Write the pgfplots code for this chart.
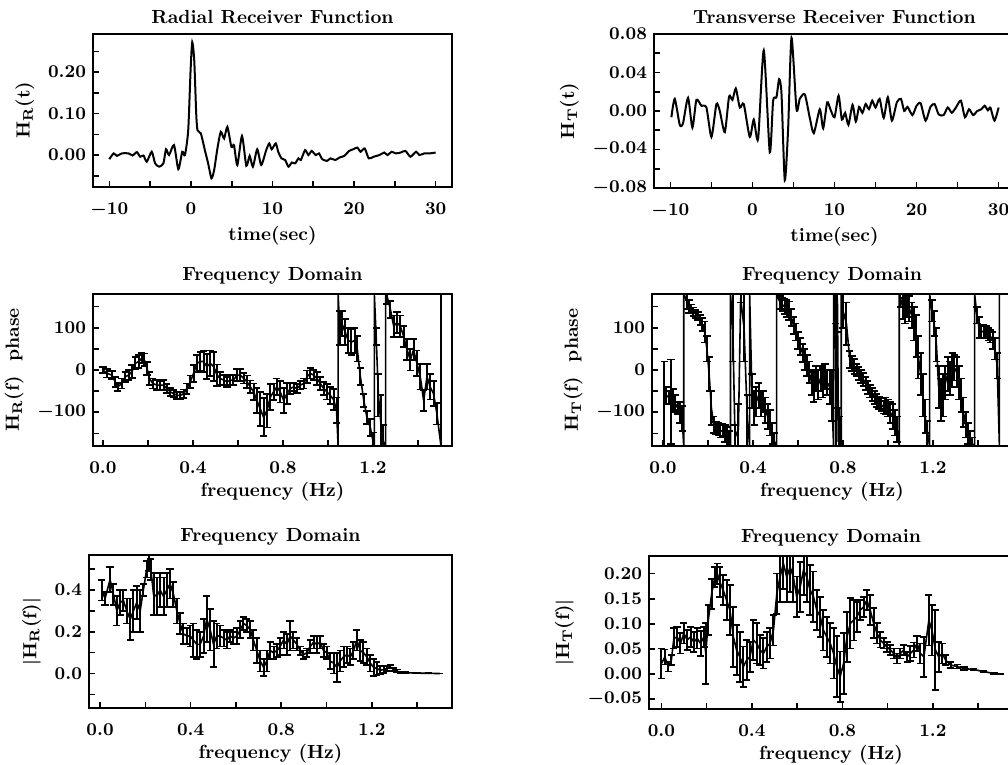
\documentclass[border=0pt]{standalone}
\usepackage{pgfplots}
\usepackage{pgfplotstable}
\pgfplotsset{compat=1.18}

% radial receiver function, time domain
\pgfplotstableread{
t v
-10.0 -0.010
-9.47 0.004
-9.07 -0.002
-8.46 0.004
-7.64 0.004
-7.15 -0.001
-6.63 0.007
-6.22 -0.004
-5.81 -0.001
-5.41 -0.016
-4.80 0.008
-4.39 -0.020
-3.90 -0.028
-3.37 -0.020
-3.05 0.014
-2.68 0.000
-2.07 0.024
-1.54 -0.034
-1.06 0.008
-0.73 0.000
-0.33 0.060
-0.04 0.204
0.16 0.272
0.41 0.228
0.65 0.100
0.81 0.060
1.22 0.052
1.71 0.012
2.11 -0.020
2.52 -0.056
2.85 -0.036
3.25 0.016
3.66 0.056
4.07 0.040
4.47 0.068
4.96 0.020
5.28 0.024
5.69 -0.024
6.26 0.046
6.79 -0.026
7.20 -0.002
7.60 -0.028
8.13 0.014
8.62 -0.024
9.23 0.012
9.60 0.028
9.90 0.014
10.4 0.028
10.7 0.008
11.1 -0.008
11.55 -0.012
11.96 -0.028
12.37 -0.018
12.78 -0.020
13.18 -0.008
13.47 -0.012
14.0 0.012
14.4 0.000
14.8 0.010
15.3 0.000
15.7 0.004
16.1 -0.010
16.7 -0.014
17.1 -0.008
17.7 -0.012
18.2 -0.006
18.8 -0.002
19.4 0.010
19.9 0.014
20.4 0.018
20.8 0.008
21.3 0.016
21.8 -0.008
22.4 -0.004
23.1 0.000
23.7 0.006
24.1 0.000
24.6 0.008
25.1 0.004
25.7 0.006
26.3 0.010
26.9 -0.004
27.6 0.008
28.0 0.000
28.6 0.004
29.2 0.004
30.0 0.006
}\hrtime

% transverse receiver function, time domain
\pgfplotstableread{
t v
-9.88 -0.0065
-9.47 0.0126
-8.86 -0.0144
-8.46 -0.0126
-7.85 0.0137
-7.32 -0.0173
-6.83 0.0115
-6.22 0.0054
-5.61 0.0036
-5.00 -0.0270
-4.39 0.0072
-3.98 0.0000
-3.37 -0.0220
-2.85 0.0150
-2.44 0.0115
-2.03 0.0234
-1.54 0.0036
-1.06 0.0072
-0.33 -0.0270
0.16 -0.0090
0.69 -0.0290
1.38 0.0630
2.11 -0.0430
2.52 0.0108
2.93 0.0144
3.25 0.0330
3.54 0.0180
3.94 -0.0720
4.35 -0.0180
4.76 0.0760
5.37 0.0018
5.77 0.0126
6.38 0.0173
6.99 -0.0072
7.48 -0.0230
8.21 0.0018
8.62 -0.0180
9.11 0.0090
9.50 0.0018
10.0 -0.0065
10.5 0.0160
10.9 -0.0090
11.3 -0.0020
11.7 -0.0144
12.2 0.0065
12.6 -0.0110
13.0 0.0043
13.4 -0.0020
13.8 0.0072
14.2 0.0018
14.6 0.0108
15.0 0.0036
15.5 0.0126
16.0 -0.0072
16.5 0.0144
17.0 -0.0100
17.6 0.0090
18.1 0.0126
18.5 0.0000
18.9 0.0043
19.5 -0.0043
20.0 0.0054
20.5 0.0080
21.1 -0.0100
21.7 0.0043
22.2 0.0072
22.7 -0.0036
23.3 -0.0043
23.8 0.0036
24.3 -0.0018
24.8 0.0036
25.4 0.0108
25.9 -0.0065
26.4 0.0018
26.9 -0.0043
27.4 0.0000
27.9 0.0018
28.3 0.0054
28.7 0.0007
29.0 0.0036
29.5 -0.0100
30.0 0.0036
}\httime

% radial phase (deg) with error
\pgfplotstableread{
f v e
0.000 0 8
0.018 -8 10
0.040 -12 10
0.055 -28 12
0.065 -40 10
0.084 -32 12
0.100 -16 12
0.114 -12 12
0.129 -4 15
0.144 16 15
0.159 20 15
0.173 28 12
0.184 24 15
0.196 4 15
0.207 -20 15
0.222 -32 12
0.240 -36 12
0.255 -36 10
0.270 -36 12
0.284 -44 10
0.300 -52 10
0.314 -56 8
0.329 -60 8
0.344 -60 8
0.359 -56 10
0.373 -44 12
0.388 -28 15
0.403 -8 20
0.418 16 20
0.433 20 22
0.447 20 25
0.462 8 30
0.477 16 30
0.492 8 35
0.507 -12 25
0.521 -20 15
0.536 -24 12
0.551 -28 12
0.566 -24 12
0.580 -24 12
0.596 -12 15
0.610 -12 15
0.625 -20 12
0.640 -28 15
0.655 -40 15
0.670 -52 20
0.684 -72 30
0.699 -92 40
0.714 -112 45
0.729 -96 40
0.744 -64 30
0.758 -52 20
0.773 -40 20
0.788 -52 25
0.803 -72 30
0.818 -56 25
0.833 -44 12
0.847 -40 10
0.862 -44 10
0.877 -36 10
0.892 -32 12
0.907 -16 15
0.921 -8 12
0.936 -12 12
0.951 -20 15
0.966 -32 15
0.981 -44 15
0.996 -52 18
1.010 -60 20
1.025 -70 25
1.038 -95 30
1.045 -180 0
1.045 180 0
1.052 100 40
1.062 110 30
1.076 90 30
1.090 70 30
1.104 66 30
1.118 70 30
1.130 50 30
1.144 -16 20
1.159 -72 15
1.173 -112 15
1.188 -136 20
1.200 -168 20
1.206 -180 0
1.206 180 0
1.214 80 20
1.224 -60 50
1.234 -120 60
1.246 -170 40
1.256 -180 0
1.256 180 0
1.262 176 20
1.277 144 20
1.292 104 25
1.307 112 25
1.321 104 25
1.336 80 25
1.351 48 25
1.366 24 25
1.380 48 25
1.395 16 30
1.410 -16 30
1.425 -72 25
1.440 -16 30
1.454 -40 30
1.469 -56 30
1.484 -104 25
1.502 -180 0
1.502 180 0
}\hrphase

% transverse phase (deg) with error
\pgfplotstableread{
f v e
0.005 -80 100
0.015 -60 20
0.025 -65 15
0.035 -75 100
0.045 -70 25
0.055 -80 20
0.065 -90 15
0.075 -100 25
0.085 -115 30
0.092 -180 0
0.092 180 0
0.105 165 20
0.115 150 15
0.125 145 10
0.135 138 10
0.145 133 10
0.155 128 10
0.165 118 12
0.175 108 15
0.185 90 25
0.195 50 30
0.205 -10 40
0.215 -90 40
0.225 -130 20
0.235 -138 15
0.245 -140 15
0.255 -145 15
0.265 -143 15
0.275 -150 20
0.285 -160 25
0.295 -175 30
0.300 -180 0
0.300 180 0
0.310 100 80
0.320 -160 30
0.335 -140 60
0.345 170 10
0.360 100 80
0.375 -120 60
0.385 -180 0
0.385 180 0
0.395 -50 40
0.405 -90 40
0.415 -75 35
0.425 -60 30
0.435 -80 30
0.445 -75 25
0.455 -95 30
0.465 -110 30
0.475 -125 30
0.485 -150 25
0.495 -170 20
0.505 -180 0
0.505 180 0
0.520 160 15
0.530 155 15
0.540 150 18
0.550 145 20
0.560 140 22
0.570 125 20
0.580 105 20
0.590 90 20
0.600 70 20
0.610 55 20
0.620 40 22
0.630 25 25
0.640 10 25
0.650 -5 25
0.660 -30 30
0.670 -40 35
0.680 -20 30
0.690 -35 35
0.700 -20 30
0.710 -30 35
0.720 -15 30
0.730 -30 30
0.740 -40 40
0.750 -60 60
0.758 -180 0
0.758 180 0
0.765 170 60
0.770 -170 80
0.775 170 80
0.780 -170 80
0.785 -150 40
0.792 -180 0
0.792 180 0
0.800 140 40
0.815 110 50
0.830 25 20
0.840 15 18
0.850 8 18
0.860 0 15
0.870 -8 15
0.880 -15 15
0.890 -22 15
0.900 -32 15
0.910 -42 15
0.920 -50 15
0.930 -58 15
0.940 -65 15
0.950 -72 15
0.960 -78 15
0.970 -82 15
0.980 -88 15
0.990 -85 20
1.000 -90 20
1.010 -100 25
1.020 -110 30
1.030 -125 30
1.040 -140 30
1.050 -180 0
1.050 180 0
1.055 170 20
1.065 150 30
1.075 140 30
1.085 150 25
1.095 145 30
1.105 130 30
1.115 110 40
1.125 80 50
1.135 30 50
1.145 -10 50
1.155 -60 50
1.165 -110 40
1.175 -150 30
1.185 -180 0
1.185 180 0
1.195 140 25
1.205 110 30
1.215 60 40
1.225 -40 50
1.235 -70 50
1.245 -60 50
1.255 -30 40
1.265 -10 40
1.275 -20 40
1.285 0 40
1.295 5 30
1.305 -5 35
1.315 -30 40
1.325 -60 40
1.335 -100 35
1.345 -130 30
1.355 -150 25
1.365 -165 20
1.375 -175 15
1.385 -180 0
1.385 180 0
1.395 130 20
1.405 100 25
1.415 90 15
1.425 92 15
1.435 90 15
1.445 85 15
1.455 80 15
1.465 70 20
1.475 50 25
1.485 10 30
1.495 -180 0
1.495 180 0
}\htphase

% radial amplitude with error
\pgfplotstableread{
f v e
0.007 0.40 0.05
0.022 0.36 0.03
0.044 0.45 0.06
0.059 0.38 0.05
0.074 0.30 0.07
0.088 0.34 0.06
0.103 0.35 0.05
0.118 0.30 0.06
0.133 0.26 0.10
0.147 0.30 0.10
0.162 0.34 0.08
0.177 0.30 0.10
0.191 0.40 0.03
0.206 0.50 0.04
0.214 0.53 0.04
0.224 0.50 0.05
0.236 0.38 0.10
0.250 0.37 0.09
0.265 0.40 0.08
0.280 0.37 0.09
0.295 0.40 0.08
0.309 0.43 0.07
0.324 0.38 0.06
0.339 0.30 0.06
0.353 0.24 0.05
0.368 0.19 0.05
0.383 0.18 0.04
0.398 0.18 0.05
0.412 0.16 0.08
0.427 0.14 0.07
0.442 0.14 0.06
0.457 0.18 0.08
0.471 0.26 0.11
0.486 0.21 0.10
0.501 0.14 0.11
0.515 0.18 0.06
0.530 0.18 0.05
0.545 0.17 0.04
0.560 0.16 0.04
0.574 0.18 0.03
0.589 0.17 0.03
0.604 0.18 0.04
0.619 0.21 0.04
0.633 0.24 0.03
0.648 0.23 0.03
0.663 0.21 0.04
0.677 0.16 0.05
0.692 0.11 0.06
0.707 0.06 0.05
0.722 0.03 0.04
0.736 0.06 0.05
0.751 0.11 0.04
0.766 0.10 0.03
0.781 0.11 0.03
0.795 0.13 0.04
0.810 0.16 0.04
0.825 0.14 0.05
0.839 0.18 0.07
0.854 0.16 0.04
0.869 0.14 0.03
0.884 0.11 0.02
0.898 0.09 0.02
0.913 0.10 0.02
0.928 0.13 0.03
0.943 0.15 0.03
0.957 0.14 0.04
0.972 0.15 0.03
0.987 0.11 0.03
1.001 0.10 0.03
1.016 0.06 0.04
1.031 0.05 0.05
1.046 0.03 0.07
1.060 0.06 0.05
1.075 0.08 0.05
1.090 0.09 0.04
1.105 0.08 0.04
1.119 0.11 0.04
1.134 0.16 0.05
1.149 0.11 0.05
1.163 0.10 0.05
1.178 0.08 0.04
1.193 0.05 0.04
1.208 0.03 0.04
1.222 0.024 0.03
1.237 0.016 0.02
1.252 0.019 0.015
1.267 0.024 0.012
1.281 0.032 0.008
1.296 0.019 0.008
1.311 0.013 0.006
1.325 0.006 0.004
1.350 0.004 0.002
1.400 0.002 0.001
1.450 0.001 0.0005
1.500 0.000 0
}\hramp

% transverse amplitude with error
\pgfplotstableread{
f v e
0.000 0.021 0.03
0.015 0.034 0.015
0.030 0.015 0.01
0.044 0.028 0.01
0.055 0.071 0.02
0.069 0.074 0.02
0.084 0.061 0.02
0.099 0.081 0.02
0.114 0.068 0.02
0.129 0.074 0.02
0.143 0.064 0.02
0.158 0.071 0.02
0.173 0.061 0.025
0.188 0.074 0.02
0.196 0.041 0.06
0.207 0.107 0.03
0.222 0.160 0.03
0.236 0.193 0.02
0.247 0.200 0.02
0.258 0.183 0.03
0.273 0.167 0.03
0.288 0.147 0.04
0.303 0.127 0.05
0.318 0.074 0.06
0.332 0.048 0.05
0.347 0.034 0.05
0.362 0.015 0.04
0.377 0.028 0.04
0.391 0.034 0.03
0.406 0.068 0.04
0.421 0.061 0.04
0.436 0.048 0.03
0.451 0.041 0.03
0.465 0.054 0.03
0.480 0.061 0.03
0.495 0.087 0.03
0.510 0.160 0.04
0.524 0.193 0.05
0.539 0.220 0.05
0.554 0.193 0.05
0.569 0.213 0.05
0.583 0.193 0.05
0.598 0.154 0.04
0.613 0.173 0.05
0.628 0.207 0.05
0.643 0.193 0.05
0.657 0.167 0.05
0.672 0.154 0.05
0.687 0.127 0.04
0.702 0.114 0.04
0.716 0.087 0.04
0.731 0.074 0.04
0.746 0.061 0.04
0.761 0.041 0.05
0.775 0.015 0.06
0.790 -0.005 0.05
0.805 0.021 0.06
0.820 0.074 0.05
0.835 0.101 0.05
0.849 0.107 0.04
0.864 0.114 0.03
0.879 0.127 0.02
0.894 0.134 0.02
0.908 0.147 0.02
0.923 0.127 0.03
0.938 0.101 0.03
0.953 0.081 0.02
0.967 0.068 0.015
0.982 0.061 0.01
0.997 0.054 0.01
1.012 0.048 0.01
1.027 0.041 0.01
1.041 0.031 0.01
1.056 0.041 0.01
1.071 0.048 0.01
1.086 0.034 0.01
1.100 0.041 0.015
1.115 0.048 0.015
1.130 0.061 0.015
1.145 0.041 0.02
1.160 0.034 0.04
1.182 0.107 0.05
1.196 0.087 0.05
1.211 0.048 0.08
1.226 0.034 0.03
1.241 0.041 0.02
1.256 0.028 0.01
1.278 0.018 0.006
1.307 0.015 0.004
1.337 0.011 0.003
1.381 0.009 0.002
1.425 0.005 0.001
1.470 0.001 0.0005
1.500 0.000 0
}\htamp

\newcommand{\figfont}{\fontsize{9.5}{11}\selectfont}

\pgfplotsset{
  rf/.style={
    scale only axis, anchor=south west,
    axis line style={line width=0.9pt},
    tick style={line width=0.8pt, black},
    tick align=inside, xtick pos=left, ytick pos=left,
    major tick length=3.2pt, minor tick length=3.2pt,
    scaled ticks=false,
    tick label style={font=\figfont\boldmath},
    xticklabel style={yshift=-4.5pt},
    label style={font=\figfont\bfseries\boldmath},
    xlabel style={yshift=2.5pt},
    title style={font=\figfont\bfseries, yshift=-4.5pt},
  },
  timeax/.style={rf, xmin=-12, xmax=32,
    xtick={-10,0,10,20,30}, minor xtick={-5,5,15,25},
    xlabel={time(sec)},
    yticklabel style={/pgf/number format/fixed, /pgf/number format/fixed zerofill, /pgf/number format/precision=2}},
  freqax/.style={rf,
    xtick={0,0.4,0.8,1.2}, minor xtick={0.2,0.6,1.0,1.4},
    xticklabel style={/pgf/number format/fixed, /pgf/number format/fixed zerofill, /pgf/number format/precision=1},
    xlabel={frequency (Hz)}, title={Frequency Domain}},
  ebar/.style={black, line width=0.8pt, mark=none,
    error bars/.cd, y dir=both, y explicit,
    error bar style={line width=1pt},
    error mark options={rotate=90, mark size=1.8pt, line width=0.9pt}},
}

\begin{document}
\begin{tikzpicture}
\useasboundingbox (0,0) rectangle (504pt,382.5pt);

% row 1: time domain
\begin{axis}[timeax, at={(46.5pt,289pt)}, width=179.5pt, height=76.5pt,
  ymin=-0.077, ymax=0.292,
  ytick={0,0.1,0.2}, minor ytick={-0.05,0.05,0.15,0.25},
  ylabel={H$_{\mathrm{R}}$(t)},
  title={Radial Receiver Function}]
\addplot[black, line width=1pt, smooth, tension=0.4] table[x=t, y=v] {\hrtime};
\end{axis}

\begin{axis}[timeax, at={(327pt,288.5pt)}, width=180.5pt, height=77pt,
  ymin=-0.08, ymax=0.08,
  ytick={-0.08,-0.04,0,0.04,0.08}, minor ytick={-0.06,-0.02,0.02,0.06},
  ylabel={H$_{\mathrm{T}}$(t)},
  title={Transverse Receiver Function}]
\addplot[black, line width=1pt, smooth, tension=0.4] table[x=t, y=v] {\httime};
\end{axis}

% row 2: phase
\begin{axis}[freqax, at={(46.5pt,159.5pt)}, width=179.5pt, height=76pt,
  xmin=-0.044, xmax=1.551, ymin=-180, ymax=180,
  ytick={-100,0,100}, minor ytick={-150,-50,50,150},
  ylabel={H$_{\mathrm{R}}$(f)\ \ phase}]
\addplot[ebar] table[x=f, y=v, y error=e] {\hrphase};
\end{axis}

\begin{axis}[freqax, at={(326pt,159.5pt)}, width=180pt, height=76pt,
  xmin=-0.049, xmax=1.551, ymin=-180, ymax=180,
  ytick={-100,0,100}, minor ytick={-150,-50,50,150},
  ylabel={H$_{\mathrm{T}}$(f)\ \ phase}]
\addplot[ebar] table[x=f, y=v, y error=e] {\htphase};
\end{axis}

% row 3: amplitude
\begin{axis}[freqax, at={(44.5pt,28.5pt)}, width=181.5pt, height=76.5pt,
  xmin=-0.049, xmax=1.554, ymin=-0.165, ymax=0.568,
  ytick={0,0.2,0.4}, minor ytick={-0.1,0.1,0.3,0.5},
  yticklabel style={/pgf/number format/fixed, /pgf/number format/fixed zerofill, /pgf/number format/precision=1},
  ylabel={$|$H$_{\mathrm{R}}$(f)$|$}]
\addplot[ebar] table[x=f, y=v, y error=e] {\hramp};
\end{axis}

\begin{axis}[freqax, at={(324.5pt,28pt)}, width=182pt, height=76.5pt,
  xmin=-0.055, xmax=1.554, ymin=-0.0695, ymax=0.235,
  ytick={-0.05,0,0.05,0.1,0.15,0.2},
  yticklabel style={/pgf/number format/fixed, /pgf/number format/fixed zerofill, /pgf/number format/precision=2},
  ylabel={$|$H$_{\mathrm{T}}$(f)$|$}]
\addplot[ebar] table[x=f, y=v, y error=e] {\htamp};
\end{axis}
\end{tikzpicture}
\end{document}
